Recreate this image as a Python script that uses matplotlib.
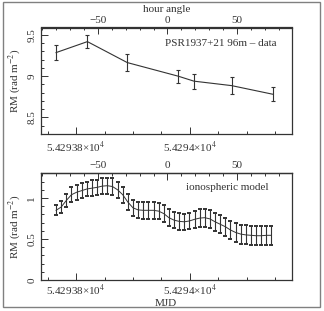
import matplotlib
matplotlib.use("Agg")
import matplotlib.pyplot as plt
from matplotlib.patches import Rectangle
from matplotlib.ticker import FixedLocator, FixedFormatter, MultipleLocator

plt.rcParams['font.family'] = ['Liberation Serif', 'DejaVu Serif']
plt.rcParams['mathtext.fontset'] = 'stix'

# ---- data: top panel (measured RM) ----
data_mjd = [54293.765, 54293.820, 54293.890, 54293.9795, 54294.007, 54294.073, 54294.145]
data_rm = [9.286, 9.419, 9.165, 9.000, 8.940, 8.886, 8.782]
data_err = [0.094, 0.080, 0.099, 0.079, 0.091, 0.107, 0.087]

# ---- data: bottom panel (ionospheric model) ----
model_mjd = [54293.765, 54293.774, 54293.783, 54293.792, 54293.801, 54293.810, 54293.819,
             54293.828, 54293.837, 54293.846, 54293.855, 54293.864, 54293.873, 54293.882,
             54293.891, 54293.900, 54293.909, 54293.918, 54293.927, 54293.936, 54293.945,
             54293.954, 54293.963, 54293.972, 54293.981, 54293.990, 54293.999, 54294.008,
             54294.017, 54294.026, 54294.035, 54294.044, 54294.053, 54294.062, 54294.071,
             54294.080, 54294.089, 54294.098, 54294.107, 54294.116, 54294.125, 54294.134,
             54294.143]
model_rm = [0.85, 0.89, 0.97, 1.04, 1.07, 1.09, 1.11, 1.12, 1.13, 1.145, 1.15, 1.14, 1.10, 1.04,
            0.95, 0.88, 0.855, 0.85, 0.85, 0.85, 0.84, 0.81, 0.76, 0.73, 0.715, 0.71, 0.72,
            0.74, 0.755, 0.76, 0.745, 0.71, 0.68, 0.65, 0.61, 0.58, 0.56, 0.55, 0.545, 0.54,
            0.54, 0.545, 0.545]
model_err = [0.06, 0.07, 0.08, 0.09, 0.09, 0.09, 0.09, 0.095, 0.095, 0.095, 0.10, 0.10, 0.10,
             0.10, 0.10, 0.10, 0.10, 0.10, 0.10, 0.10, 0.10, 0.10, 0.10, 0.10, 0.10, 0.10,
             0.10, 0.105, 0.11, 0.11, 0.11, 0.11, 0.11, 0.11, 0.11, 0.115, 0.115, 0.115,
             0.115, 0.115, 0.115, 0.115, 0.115]

xticks = [54293.8, 54294.0]
xticklabels = [u'5.42938\u00d710$^{4}$', u'5.4294\u00d710$^{4}$']
ha_ticks = [-50, 0, 50]
ha_labels = [u'\u221250', '0', '50']

XMIN, XMAX = 54293.7377, 54294.179
PX_PER_DAY = 570.0


def mjd_to_ha(m):
    x = 76.0 + (m - 54293.8) * PX_PER_DAY
    return (x - 167.5) * (10.0 / 13.9)


def ha_to_mjd(h):
    x = h * 1.39 + 167.5
    return 54293.8 + (x - 76.0) / PX_PER_DAY


fig = plt.figure(figsize=(3.24, 3.11), dpi=100)
W, H = 324.0, 311.0

fig.patches.append(Rectangle((3 / W, 1 - 307 / H), 317 / W, 305 / H, transform=fig.transFigure,
                             fill=False, edgecolor='#808080', linewidth=1.0))

ink = '#333333'
fs = 8


def style(ax, ylabs_pos, ylabs, xpad):
    ax.set_xlim(XMIN, XMAX)
    ax.xaxis.set_major_locator(FixedLocator(xticks))
    ax.xaxis.set_major_formatter(FixedFormatter(xticklabels))
    ax.xaxis.set_minor_locator(MultipleLocator(0.05))
    ax.yaxis.set_major_locator(FixedLocator(ylabs_pos))
    ax.yaxis.set_major_formatter(FixedFormatter(ylabs))
    ax.yaxis.set_minor_locator(MultipleLocator(0.1))
    ax.tick_params(which='both', direction='in', top=False, right=False, colors=ink,
                   labelsize=fs, width=0.7)
    ax.tick_params(which='major', length=5)
    ax.tick_params(which='minor', length=2.5)
    ax.tick_params(axis='x', pad=xpad)
    ax.tick_params(axis='y', pad=3)
    for s in ax.spines.values():
        s.set_color(ink)
        s.set_linewidth(0.9)
    ax.set_ylabel(r'RM (rad m$^{-2}$)', fontsize=fs, color=ink, labelpad=3)
    sec = ax.secondary_xaxis('top', functions=(mjd_to_ha, ha_to_mjd))
    sec.xaxis.set_major_locator(FixedLocator(ha_ticks))
    sec.xaxis.set_major_formatter(FixedFormatter(ha_labels))
    sec.xaxis.set_minor_locator(MultipleLocator(10))
    sec.tick_params(which='both', direction='in', colors=ink, labelsize=fs, width=0.7, pad=2)
    sec.tick_params(which='major', length=5)
    sec.tick_params(which='minor', length=2.5)
    sec.spines['top'].set_color(ink)
    sec.spines['top'].set_linewidth(0.9)
    for lab in ax.get_yticklabels():
        lab.set_rotation(90)
        lab.set_va('center')
    return sec


# ---- top panel ----
ax1 = fig.add_axes([40.5 / W, 1 - 134 / H, 251.5 / W, 106.5 / H])
ax1.errorbar(data_mjd, data_rm, yerr=data_err, color=ink, lw=0.8, elinewidth=0.8,
             capsize=1.7, capthick=0.8)
ax1.set_ylim(8.30, 9.59)
sec1 = style(ax1, [8.5, 9.0, 9.5], ['8.5', '9', '9.5'], 4)
sec1.set_xlabel('hour angle', fontsize=fs, color=ink, labelpad=3)
ax1.text(0.94, 0.854, u'PSR1937+21 96m \u2013 data', transform=ax1.transAxes, ha='right',
         va='center', fontsize=fs, color=ink)

# ---- bottom panel ----
ax2 = fig.add_axes([40.5 / W, 1 - 280 / H, 251.5 / W, 107 / H])
ax2.errorbar(model_mjd, model_rm, yerr=model_err, color=ink, lw=0.7, elinewidth=0.8,
             capsize=1.6, capthick=1.4)
ax2.set_ylim(0, 1.305)
style(ax2, [0, 0.5, 1.0], ['0', '0.5', '1'], 2)
ax2.set_xlabel('MJD', fontsize=fs, color=ink, labelpad=1)
ax2.text(0.909, 0.86, 'ionospheric model', transform=ax2.transAxes, ha='right',
         va='center', fontsize=fs, color=ink)

fig.savefig('out.png', dpi=100)
